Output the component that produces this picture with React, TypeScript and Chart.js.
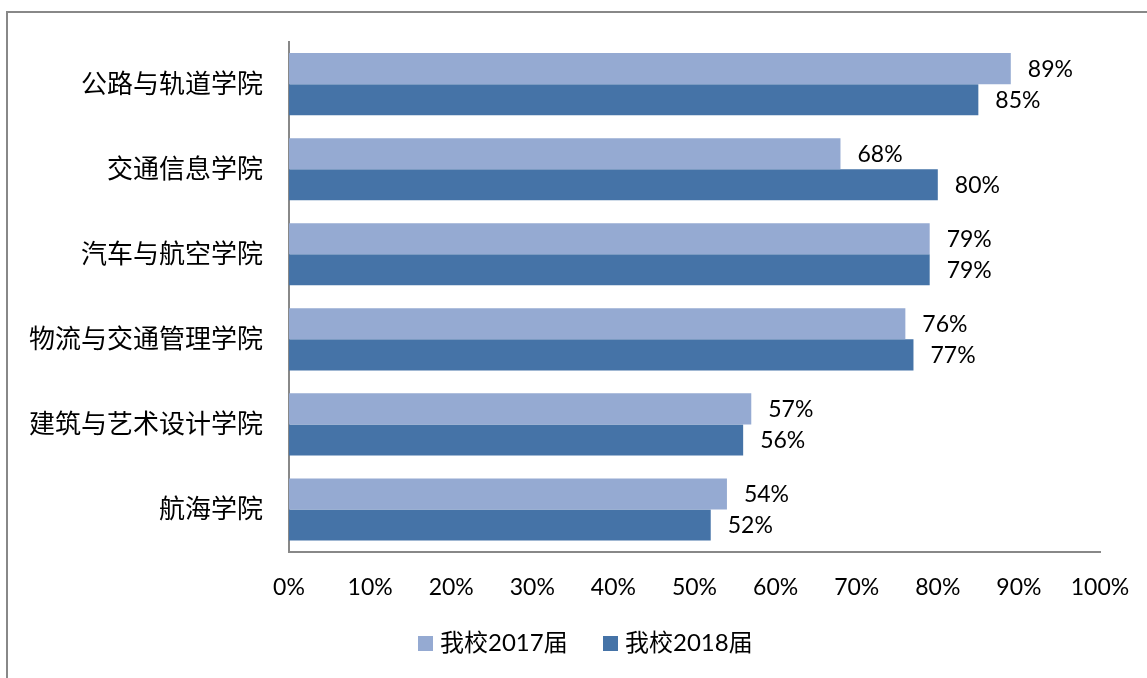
import React, { useEffect, useRef } from "react";
import { Chart, registerables } from "chart.js";

Chart.register(...registerables);

const categories = ["公路与轨道学院", "交通信息学院", "汽车与航空学院", "物流与交通管理学院", "建筑与艺术设计学院", "航海学院"];
const series2017 = [89, 68, 79, 76, 57, 54];
const series2018 = [85, 80, 79, 77, 56, 52];
const seriesNames = ["我校2017届", "我校2018届"];
const seriesColors = ["#95AAD2", "#4573A7"];

const FONT = "Lato, 'Noto Sans CJK SC', sans-serif";

const framePlugin = {
  id: "frame",
  beforeDraw(chart: any) {
    const ctx = chart.ctx;
    ctx.save();
    ctx.fillStyle = "#ffffff";
    ctx.fillRect(0, 0, chart.width, chart.height);
    ctx.strokeStyle = "#888888";
    ctx.lineWidth = 2;
    ctx.strokeRect(7, 12, 2000, 2000);
    ctx.restore();
  },
};

const valueLabelPlugin = {
  id: "valueLabels",
  afterDatasetsDraw(chart: any) {
    const ctx = chart.ctx;
    ctx.save();
    ctx.font = `23px ${FONT}`;
    ctx.fillStyle = "#000000";
    ctx.textAlign = "left";
    ctx.textBaseline = "middle";
    chart.data.datasets.forEach((ds: any, i: number) => {
      const meta = chart.getDatasetMeta(i);
      meta.data.forEach((bar: any, j: number) => {
        ctx.fillText(`${ds.data[j]}%`, bar.x + 17, bar.y + 1);
      });
    });
    ctx.restore();
  },
};

const legendPlugin = {
  id: "customLegend",
  afterDraw(chart: any) {
    const ctx = chart.ctx;
    ctx.save();
    ctx.font = `24px ${FONT}`;
    ctx.textBaseline = "middle";
    ctx.textAlign = "left";
    let x = 418;
    const yMid = 643;
    chart.data.datasets.forEach((ds: any) => {
      ctx.fillStyle = ds.backgroundColor;
      ctx.fillRect(x, yMid - 7, 15, 15);
      ctx.fillStyle = "#000000";
      ctx.fillText(ds.label, x + 22, yMid);
      x += 185;
    });
    ctx.restore();
  },
};

export default function App() {
  const ref = useRef<HTMLCanvasElement | null>(null);
  useEffect(() => {
    if (!ref.current) return;
    const chart = new Chart(ref.current, {
      type: "bar",
      data: {
        labels: categories,
        datasets: [
          { label: seriesNames[0], data: series2017, backgroundColor: seriesColors[0], categoryPercentage: 0.73, barPercentage: 1 },
          { label: seriesNames[1], data: series2018, backgroundColor: seriesColors[1], categoryPercentage: 0.73, barPercentage: 1 },
        ],
      },
      options: {
        indexAxis: "y",
        responsive: false,
        animation: false,
        layout: { padding: { left: 0, top: 41, right: 47, bottom: 0 } },
        plugins: { legend: { display: false }, tooltip: { enabled: false } },
        scales: {
          x: {
            min: 0,
            max: 100,
            grid: { display: false, drawTicks: false },
            border: { display: true, color: "#888888", width: 2 },
            ticks: {
              stepSize: 10,
              padding: 22,
              color: "#000000",
              font: { family: FONT, size: 23 },
              callback: (v: any) => `${v}%`,
            },
            afterFit: (scale: any) => {
              scale.height = 126;
              scale.paddingLeft = 0;
              scale.paddingRight = 0;
            },
          },
          y: {
            grid: { display: false, drawTicks: false },
            border: { display: true, color: "#888888", width: 2 },
            ticks: {
              padding: 26,
              color: "#000000",
              font: { family: FONT, size: 26 },
            },
            afterFit: (scale: any) => {
              scale.width = 289;
            },
          },
        },
      },
      plugins: [framePlugin, valueLabelPlugin, legendPlugin],
    });
    return () => chart.destroy();
  }, []);
  return (
    <div style={{ position: "absolute", left: 0, top: 0, width: 1147, height: 678 }}>
      <canvas ref={ref} width={1147} height={678} style={{ display: "block" }} />
    </div>
  );
}
